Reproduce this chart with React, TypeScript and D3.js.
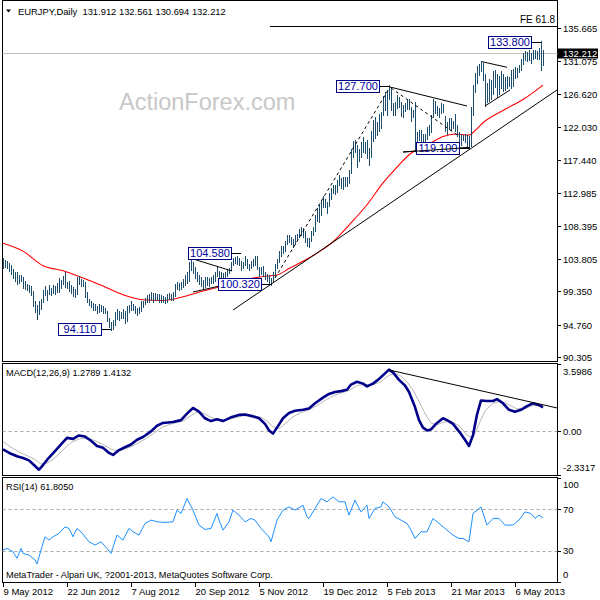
import React from 'react';
import * as d3 from 'd3';

// daily bars, 9 May 2012 .. 24 May 2013 (high / low)
const barHigh = [
  103.9, 103.6, 103.5, 103.2, 102.9, 102.4, 102.0, 101.9, 101.5, 101.6,
  101.3, 100.7, 100.3, 100.1, 100.0, 99.3, 98.0, 97.4, 97.9, 98.3,
  99.5, 100.0, 99.5, 100.2, 99.8, 100.1, 100.0, 100.5, 101.1, 100.9,
  101.4, 101.9, 100.6, 100.7, 100.2, 99.9, 99.6, 101.3, 101.4, 101.0,
  100.8, 100.6, 99.2, 98.3, 97.9, 97.7, 97.5, 97.3, 97.6, 97.4,
  97.3, 97.0, 96.6, 95.6, 95.0, 95.4, 96.5, 96.9, 96.6, 96.4,
  96.8, 96.6, 97.2, 97.4, 97.9, 97.6, 97.3, 97.0, 97.1, 97.9,
  98.0, 98.4, 98.8, 98.9, 99.2, 99.0, 99.1, 98.9, 98.9, 98.8,
  98.6, 98.5, 98.9, 99.0, 98.9, 99.2, 100.3, 100.6, 100.4, 100.6,
  101.0, 101.5, 101.9, 103.4, 104.58, 103.3, 102.6, 102.0, 101.5, 101.2,
  100.8, 101.2, 101.3, 101.1, 101.3, 101.5, 101.9, 102.6, 102.1, 102.0,
  101.8, 102.0, 102.4, 102.5, 103.4, 103.9, 104.0, 104.2, 103.9, 103.5,
  103.4, 104.1, 103.8, 103.0, 103.5, 103.7, 104.2, 104.1, 102.6, 102.6,
  102.8, 101.9, 101.7, 101.5, 101.1, 101.9, 103.1, 103.7, 104.8, 105.6,
  105.6, 106.2, 107.0, 107.0, 106.8, 106.5, 107.0, 107.2, 107.9, 108.1,
  108.0, 107.6, 106.6, 106.7, 107.6, 108.1, 109.8, 110.8, 111.2, 111.9,
  112.4, 112.0, 111.6, 112.8, 113.5, 114.0, 114.0, 114.7, 115.3, 114.9,
  115.1, 115.1, 115.0, 116.0, 118.9, 120.0, 120.1, 119.4, 118.9, 119.9,
  120.6, 119.9, 120.1, 119.0, 121.4, 122.9, 123.3, 122.6, 123.7, 124.0,
  126.2, 126.8, 127.0, 127.70, 127.2, 125.2, 125.4, 126.3, 126.1, 125.4,
  125.0, 125.2, 125.7, 125.8, 124.7, 124.3, 125.4, 121.3, 121.5, 121.6,
  121.0, 121.0, 122.0, 122.2, 123.6, 125.8, 125.5, 124.8, 124.5, 125.3,
  125.1, 123.4, 122.6, 123.2, 123.2, 122.8, 123.8, 122.2, 121.3, 121.0,
  120.9, 121.0, 120.9, 120.7, 124.7, 127.8, 129.4, 130.3, 130.6, 131.1,
  130.8, 129.3, 128.0, 128.6, 128.4, 129.7, 129.8, 129.3, 129.0, 129.6,
  129.3, 128.9, 129.0, 128.8, 129.8, 130.0, 130.2, 130.1, 130.5, 131.3,
  132.2, 132.4, 132.3, 132.5, 132.2, 132.6, 132.5, 132.4, 132.8, 133.8, 132.561,
];
const barLow = [
  102.7, 102.8, 102.6, 102.2, 101.8, 101.3, 100.9, 100.4, 100.6, 100.9,
  99.9, 99.8, 99.6, 99.4, 98.9, 97.4, 96.6, 95.6, 96.3, 97.0,
  97.9, 98.9, 98.3, 99.0, 98.9, 99.2, 99.0, 99.4, 99.4, 99.9,
  100.5, 100.0, 99.9, 99.5, 99.2, 98.8, 98.7, 99.0, 100.4, 100.2,
  100.1, 98.7, 98.0, 97.5, 97.2, 96.9, 96.8, 96.5, 96.6, 96.7,
  96.4, 96.4, 95.3, 94.5, 94.11, 94.3, 94.8, 95.6, 95.5, 95.7,
  95.8, 95.0, 95.3, 96.6, 96.8, 96.9, 96.5, 96.1, 96.4, 96.7,
  97.3, 97.7, 98.0, 98.0, 98.2, 97.9, 98.3, 98.2, 98.0, 98.0,
  97.9, 97.8, 97.9, 98.4, 98.3, 98.2, 98.8, 99.7, 99.6, 99.8,
  100.0, 100.3, 100.6, 100.9, 102.3, 101.9, 101.2, 100.9, 100.5, 100.2,
  99.8, 100.0, 100.3, 100.2, 100.6, 100.6, 100.9, 101.5, 101.2, 101.3,
  100.9, 101.3, 101.6, 101.9, 102.3, 103.0, 103.3, 103.2, 103.0, 102.4,
  102.6, 103.0, 102.6, 102.3, 102.6, 102.9, 103.1, 102.5, 101.6, 101.8,
  101.6, 101.1, 100.9, 100.6, 100.32, 100.7, 101.5, 102.6, 103.5, 104.3,
  104.7, 105.0, 106.0, 106.2, 106.0, 105.5, 106.0, 106.5, 106.9, 107.2,
  106.9, 106.2, 105.7, 105.6, 106.4, 107.2, 107.7, 109.1, 109.0, 110.0,
  111.0, 111.1, 110.2, 111.2, 112.2, 113.0, 112.9, 113.1, 114.1, 113.7,
  113.6, 113.9, 113.9, 114.4, 115.8, 117.9, 118.6, 116.6, 117.4, 117.9,
  118.6, 118.5, 117.8, 116.9, 118.0, 120.2, 120.6, 121.0, 121.5, 122.0,
  123.8, 124.4, 123.7, 125.9, 124.4, 123.7, 123.8, 124.7, 124.9, 123.6,
  123.5, 124.3, 124.6, 124.6, 122.9, 123.4, 118.8, 119.1, 120.3, 119.8,
  119.6, 120.0, 120.4, 121.0, 121.4, 123.4, 124.0, 123.7, 123.5, 124.0,
  124.1, 121.6, 121.1, 121.8, 121.7, 121.9, 121.6, 120.8, 120.1, 119.6,
  120.3, 120.0, 119.5, 119.10, 119.4, 123.8, 126.9, 128.2, 129.2, 129.8,
  128.6, 125.0, 125.5, 125.7, 126.0, 126.6, 127.6, 126.2, 126.7, 127.4,
  127.0, 127.2, 127.5, 127.8, 127.5, 127.8, 128.9, 129.0, 129.6, 129.9,
  130.8, 131.3, 131.2, 131.3, 130.9, 131.5, 131.6, 131.4, 131.5, 130.0, 130.694,
];

// moving average [bar, value]
const movingAvg: [number, number][] = [
  [0, 106.0], [10, 104.9], [20, 102.9], [30, 102.2], [40, 101.2], [50, 100.1],
  [60, 98.9], [70, 98.2], [80, 98.1], [90, 98.6], [100, 99.4], [110, 100.1],
  [120, 100.9], [130, 101.4], [137, 101.6], [143, 102.5], [150, 103.5], [158, 104.8],
  [165, 106.2], [173, 108.5], [182, 111.3], [190, 114.3], [197, 116.5], [204, 118.4],
  [212, 119.5], [220, 120.7], [226, 121.05], [233, 120.9], [237, 121.8], [240, 122.6],
  [250, 124.3], [260, 125.8], [270, 127.8],
];

const macdMain: [number, number][] = [
  [0, -0.96], [4, -1.2], [7, -1.33], [10, -1.42], [13, -1.55], [16, -1.85], [18, -2.05],
  [20, -1.8], [23, -1.4], [26, -1.05], [29, -0.7], [32, -0.35], [35, -0.4], [38, -0.22],
  [41, -0.28], [44, -0.5], [47, -0.78], [50, -0.88], [53, -1.15], [55, -1.26], [58, -1.0],
  [61, -0.85], [64, -0.7], [67, -0.45], [70, -0.3], [74, 0.0], [77, 0.3], [80, 0.45],
  [85, 0.5], [89, 0.6], [92, 0.95], [95, 1.25], [98, 1.05], [101, 0.7], [104, 0.55],
  [107, 0.65], [110, 0.55], [114, 0.75], [118, 0.88], [121, 0.9], [125, 0.8], [128, 0.7],
  [131, 0.4], [133, 0.05], [135, -0.12], [137, 0.2], [140, 0.7], [143, 0.98], [146, 1.1],
  [150, 1.15], [153, 1.22], [156, 1.5], [160, 1.8], [163, 2.0], [166, 2.1], [169, 2.15],
  [172, 2.22], [174, 2.5], [177, 2.65], [180, 2.55], [182, 2.4], [185, 2.55], [188, 2.8],
  [191, 3.1], [193, 3.3], [195, 3.15], [198, 2.75], [201, 2.45], [203, 2.1], [206, 1.3],
  [208, 0.6], [210, 0.2], [212, 0.05], [214, 0.1], [217, 0.45], [220, 0.7], [222, 0.6],
  [225, 0.4], [228, 0.0], [231, -0.45], [233, -0.78], [235, -0.2], [237, 0.9], [239, 1.65],
  [242, 1.62], [245, 1.62], [247, 1.72], [250, 1.5], [253, 1.15], [256, 1.05], [259, 1.15],
  [262, 1.35], [265, 1.5], [268, 1.4], [270, 1.28],
];
const macdSignal: [number, number][] = [
  [0, -0.55], [4, -0.85], [8, -1.1], [12, -1.3], [16, -1.5], [19, -1.75], [22, -1.7],
  [25, -1.5], [28, -1.2], [31, -0.9], [34, -0.6], [38, -0.4], [42, -0.35], [46, -0.5],
  [50, -0.7], [54, -0.95], [57, -1.05], [60, -0.98], [64, -0.82], [68, -0.6], [72, -0.35],
  [76, -0.05], [80, 0.25], [85, 0.42], [90, 0.55], [94, 0.85], [97, 1.02], [100, 0.98],
  [104, 0.75], [108, 0.62], [112, 0.62], [116, 0.72], [120, 0.83], [125, 0.85], [129, 0.75],
  [132, 0.55], [135, 0.25], [138, 0.15], [141, 0.4], [145, 0.78], [149, 1.0], [153, 1.15],
  [157, 1.38], [161, 1.65], [165, 1.9], [169, 2.05], [173, 2.18], [177, 2.45], [181, 2.5],
  [185, 2.5], [189, 2.65], [193, 3.0], [196, 3.1], [199, 2.95], [202, 2.65], [205, 2.2],
  [208, 1.6], [211, 0.95], [214, 0.45], [217, 0.35], [220, 0.48], [224, 0.55], [228, 0.3],
  [232, -0.2], [235, -0.35], [238, 0.4], [241, 1.1], [245, 1.5], [249, 1.62], [253, 1.42],
  [257, 1.2], [261, 1.22], [265, 1.38], [270, 1.41],
];

const rsi: [number, number][] = [
  [0, 30.7], [2, 32.3], [5, 29.1], [7, 22.7], [9, 32.3], [10, 27.5], [13, 25.9], [16, 21.1],
  [17, 17.3], [19, 30.7], [21, 43.5], [23, 40.3], [25, 43.5], [28, 46.7], [31, 53.0],
  [33, 51.5], [35, 43.5], [37, 51.5], [39, 48.3], [43, 38.7], [46, 35.5], [49, 38.7],
  [52, 32.3], [54, 27.5], [57, 45.1], [60, 40.3], [63, 51.5], [65, 48.3], [68, 45.1],
  [71, 56.3], [74, 59.5], [77, 57.9], [81, 57.3], [85, 57.9], [87, 69.1], [89, 65.9],
  [92, 80.3], [95, 69.1], [98, 54.7], [101, 50.5], [104, 51.5], [107, 65.9], [108, 59.5],
  [110, 49.9], [113, 57.9], [115, 69.1], [118, 64.3], [121, 57.9], [124, 61.1], [126, 59.5],
  [129, 51.5], [133, 43.5], [134, 38.7], [137, 59.5], [140, 69.1], [143, 72.2], [146, 69.1],
  [150, 73.9], [152, 62.7], [153, 61.1], [156, 70.7], [159, 80.3], [162, 77.1], [165, 81.8],
  [168, 77.1], [171, 77.1], [173, 64.3], [176, 78.7], [179, 67.4], [182, 73.9], [183, 61.1],
  [186, 70.7], [189, 72.2], [190, 77.1], [193, 72.2], [196, 62.7], [199, 59.5], [202, 56.3],
  [204, 49.9], [206, 41.9], [209, 48.3], [212, 48.3], [215, 61.1], [218, 56.3], [222, 49.9],
  [225, 45.1], [228, 41.9], [230, 41.9], [233, 38.7], [235, 65.9], [239, 72.2], [242, 54.7],
  [245, 61.1], [248, 61.1], [251, 54.7], [255, 54.7], [258, 59.5], [261, 67.4], [264, 65.9],
  [266, 61.1], [268, 64.3], [270, 61.8],
];

const priceTicks = [135.665, 131.075, 126.62, 122.03, 117.44, 112.985, 108.395, 103.805, 99.35, 94.76, 90.305];
const macdTicks = [3.5986, 0, -2.3317];
const rsiTicks = [100, 70, 30, 0];
const dateLabels = ['9 May 2012', '22 Jun 2012', '7 Aug 2012', '20 Sep 2012', '5 Nov 2012', '19 Dec 2012', '5 Feb 2013', '21 Mar 2013', '6 May 2013'];
const dateBars = [0, 32, 64, 96, 128, 160, 192, 224, 256];

// swing labels: bar, price
const swingBars = [54, 119, 134, 193, 233, 269];
const swingPrices = [94.11, 104.58, 100.32, 127.7, 119.1, 133.8];

// drawn objects: [bar, price] pairs
const trendLines: [number, number][][] = [
  [[115, 96.78], [277, 127.12]],
  [[93.5, 103.95], [114.5, 102.16]],
  [[95, 99.27], [115, 100.51]],
  [[193.5, 127.53], [232, 124.91]],
  [[200, 118.57], [233.5, 119.19]],
  [[239.5, 131.02], [252, 130.25]],
  [[241, 124.91], [253.5, 127.12]],
];
const dashedLines: [number, number][][] = [
  [[136, 101.2], [193.5, 127.53]],
  [[194, 127.39], [228.5, 120.64]],
];
const fibLevel = 135.9;
const macdTrend: [number, number][] = [[193, 3.28], [277, 1.25]];

const font = "'Liberation Sans', Arial, sans-serif";

export default function App() {
  const left = 2.5, right = 557.5;
  const x = d3.scaleLinear().domain([0, 270]).range([3, 543]);
  const yMain = d3.scaleLinear().domain([90.305, 135.665]).range([357, 28]);
  const yMacd = d3.scaleLinear().domain([-2.3317, 3.5986]).range([475, 364]);
  const yRsi = d3.scaleLinear().domain([0, 100]).range([582, 478]);

  const maLine = d3.line<[number, number]>().x(d => x(d[0])).y(d => yMain(d[1])).curve(d3.curveMonotoneX);
  const macdLine = d3.line<[number, number]>().x(d => x(d[0])).y(d => yMacd(d[1]));
  const rsiLine = d3.line<[number, number]>().x(d => x(d[0])).y(d => yRsi(d[1]));
  const objLine = d3.line<[number, number]>().x(d => x(d[0])).y(d => yMain(d[1]));

  const last = 132.212;
  const lastY = Math.round(yMain(last));

  return (
    <svg width={600} height={600} style={{ position: 'absolute', left: 0, top: 0, background: '#fff' }}
      fontFamily={font}>
      <defs>
        <clipPath id="mainClip"><rect x={left} y={0.5} width={right - left} height={361} /></clipPath>
        <clipPath id="macdClip"><rect x={left} y={363.5} width={right - left} height={112} /></clipPath>
      </defs>

      {/* pane frames */}
      <rect x={left} y={0.5} width={right - left} height={361} fill="none" stroke="#000" />
      <rect x={left} y={363.5} width={right - left} height={112} fill="none" stroke="#000" />
      <rect x={left} y={477.5} width={right - left} height={105} fill="none" stroke="#000" />

      <text x={119} y={110} fontSize={23.5} fill="#c8c8c8">ActionForex.com</text>

      {/* current price line */}
      <line x1={left} x2={right} y1={lastY + 0.5} y2={lastY + 0.5} stroke="#c0c0c0" />

      <g clipPath="url(#mainClip)">
        <line x1={x(133.5)} x2={right} y1={Math.round(yMain(fibLevel)) + 0.5} y2={Math.round(yMain(fibLevel)) + 0.5} stroke="#000" />
        <path d={maLine(movingAvg) ?? ''} fill="none" stroke="#ff0000" strokeWidth={1.1} />
        <g stroke="#1d4d6a" strokeWidth={1}>
          {barHigh.map((h, i) => {
            const px = Math.round(x(i)) + 0.5;
            return <line key={i} x1={px} x2={px} y1={Math.floor(yMain(h))} y2={Math.ceil(yMain(barLow[i])) + 1} />;
          })}
        </g>
        {trendLines.map((l, i) => (
          <path key={i} d={objLine(l) ?? ''} fill="none" stroke="#000" strokeWidth={1} />
        ))}
        {dashedLines.map((l, i) => (
          <path key={i} d={objLine(l) ?? ''} fill="none" stroke="#000" strokeWidth={1} strokeDasharray="3,3" />
        ))}
      </g>
      <text x={555} y={23} fontSize={10} textAnchor="end" fill="#000">FE 61.8</text>

      {/* swing labels */}
      {swingBars.map((b, i) => {
        const bx = x(b);
        const cy = Math.round(yMain(swingPrices[i])) + 0.5;
        const r = Math.round(bx - 10) + 0.5;
        const w = 43, h = 12;
        return (
          <g key={i}>
            <line x1={r} x2={bx} y1={cy} y2={cy} stroke="#000" />
            <rect x={r - w} y={cy - h / 2} width={w} height={h} fill="#fff" stroke="#000080" />
            <text x={r - w / 2} y={cy} dy="0.36em" fontSize={11} textAnchor="middle" fill="#0000a0">
              {swingPrices[i].toFixed(3)}
            </text>
          </g>
        );
      })}
      {/* 119.100 marker line drawn over its label */}
      <path d={objLine(trendLines[4]) ?? ''} fill="none" stroke="#000" />

      {/* title */}
      <polygon points="6,9.5 11,9.5 8.5,12.5" fill="#000" />
      <text x={18} y={15} fontSize={9.4} fill="#000" style={{ whiteSpace: 'pre' }}>
        {'EURJPY,Daily  131.912 132.561 130.694 132.212'}
      </text>

      {/* price axis */}
      {priceTicks.map(t => {
        const ty = Math.round(yMain(t)) + 0.5;
        return (
          <g key={t}>
            <line x1={right} x2={561} y1={ty} y2={ty} stroke="#000" />
            <text x={563} y={ty + 0.5} dy="0.35em" fontSize={9.5} fill="#000">{t.toFixed(3)}</text>
          </g>
        );
      })}
      <rect x={558} y={lastY - 4.5} width={40} height={10} fill="#000" />
      <text x={563} y={lastY + 0.5} dy="0.35em" fontSize={9.5} fill="#fff">{last.toFixed(3)}</text>

      {/* MACD pane */}
      <line x1={left} x2={right} y1={Math.round(yMacd(0)) + 0.5} y2={Math.round(yMacd(0)) + 0.5} stroke="#a8a8a8" strokeDasharray="3,3" />
      <g clipPath="url(#macdClip)">
        <path d={macdLine(macdSignal) ?? ''} fill="none" stroke="#b8b8b8" strokeWidth={1} />
        <path d={macdLine(macdMain) ?? ''} fill="none" stroke="#00008b" strokeWidth={2.6} strokeLinejoin="round" />
        <path d={macdLine(macdTrend) ?? ''} fill="none" stroke="#000" strokeWidth={1} />
      </g>
      <text x={6} y={376} fontSize={9.2} fill="#000">MACD(12,26,9) 1.2789 1.4132</text>
      {macdTicks.map(t => {
        const ty = Math.min(Math.max(yMacd(t), 372), 468);
        return (
          <g key={t}>
            <line x1={right} x2={561} y1={Math.round(yMacd(t)) + 0.5} y2={Math.round(yMacd(t)) + 0.5} stroke="#000" />
            <text x={563} y={ty} dy="0.35em" fontSize={9.5} fill="#000">{t === 0 ? '0.00' : t.toFixed(4)}</text>
          </g>
        );
      })}

      {/* RSI pane */}
      {[70, 30].map(l => (
        <line key={l} x1={left} x2={right} y1={Math.round(yRsi(l)) + 0.5} y2={Math.round(yRsi(l)) + 0.5} stroke="#a8a8a8" strokeDasharray="3,3" />
      ))}
      <path d={rsiLine(rsi) ?? ''} fill="none" stroke="#1e90ff" strokeWidth={1} />
      <text x={6} y={490} fontSize={9.2} fill="#000">RSI(14) 61.8050</text>
      <text x={6} y={578} fontSize={9.2} fill="#000">MetaTrader - Alpari UK, ?2001-2013, MetaQuotes Software Corp.</text>
      {rsiTicks.map(t => {
        const ty = Math.min(Math.max(yRsi(t), 485), 575);
        return (
          <g key={t}>
            <line x1={right} x2={561} y1={Math.round(yRsi(t)) + 0.5} y2={Math.round(yRsi(t)) + 0.5} stroke="#000" />
            <text x={563} y={ty} dy="0.35em" fontSize={9.5} fill="#000">{t}</text>
          </g>
        );
      })}

      {/* time axis */}
      {dateBars.map((b, i) => {
        const tx = Math.round(x(b)) + 0.5;
        return (
          <g key={b}>
            <line x1={tx} x2={tx} y1={582.5} y2={587} stroke="#000" />
            <text x={tx} y={595} fontSize={9.5} fill="#000">{dateLabels[i]}</text>
          </g>
        );
      })}
    </svg>
  );
}
